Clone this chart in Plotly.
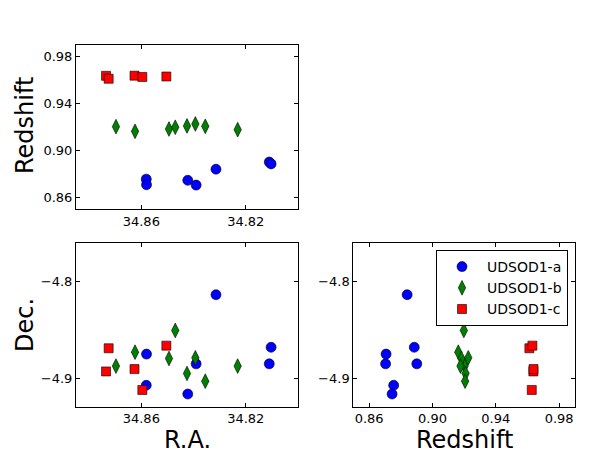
import plotly.graph_objects as go

# UDSOD1 members: R.A., redshift, Dec.
ra_a = [34.8581, 34.8580, 34.8422, 34.8390, 34.8314, 34.8110, 34.8103]
z_a = [0.8755, 0.8707, 0.8745, 0.8704, 0.8840, 0.8901, 0.8885]
dec_a = [-4.907, -4.875, -4.916, -4.885, -4.814, -4.885, -4.868]

ra_b = [34.8697, 34.8624, 34.8494, 34.8470, 34.8425, 34.8393, 34.8355, 34.8231]
z_b = [0.9203, 0.9163, 0.9183, 0.9198, 0.9209, 0.9226, 0.9206, 0.9177]
dec_b = [-4.8873, -4.8730, -4.8795, -4.8507, -4.8949, -4.8788, -4.9028, -4.8873]

ra_c = [34.8735, 34.8725, 34.8626, 34.8596, 34.8504]
z_c = [0.9637, 0.9612, 0.9638, 0.9627, 0.9631]
dec_c = [-4.8928, -4.8690, -4.8904, -4.9118, -4.8663]

groups = [
    ("UDSOD1-a", ra_a, z_a, dec_a, "circle", "#0000ff", 10),
    ("UDSOD1-b", ra_b, z_b, dec_b, "diamond-tall", "#008000", 10.5),
    ("UDSOD1-c", ra_c, z_c, dec_c, "square", "#ff0000", 9),
]

fig = go.Figure()
for name, ra, z, dec, sym, col, sz in groups:
    mk = dict(symbol=sym, color=col, size=sz, line=dict(color="black", width=0.6))
    fig.add_trace(go.Scatter(x=ra, y=z, mode="markers", marker=mk, xaxis="x", yaxis="y", showlegend=False))
    fig.add_trace(go.Scatter(x=ra, y=dec, mode="markers", marker=mk, xaxis="x2", yaxis="y2", showlegend=False))
    fig.add_trace(go.Scatter(x=z, y=dec, mode="markers", marker=mk, xaxis="x3", yaxis="y3", name=name))

font = dict(family="DejaVu Sans", size=13, color="black")
ax = dict(showgrid=False, zeroline=False, showline=True, linecolor="black", linewidth=1,
          mirror="ticks", ticks="inside", ticklen=4, tickcolor="black", automargin=False,
          tickfont=font)

# the page body adds 8px around the figure, so the figure is 8px smaller
W, H = 602, 452
left_dom = [68 / W, 290 / W]
right_dom = [345.3 / W, 567 / W]
top_dom = [1 - 201 / H, 1 - 37 / H]
bot_dom = [1 - 398.7 / H, 1 - 234.7 / H]

fig.update_layout(
    width=W, height=H,
    margin=dict(l=0, r=0, t=0, b=0),
    paper_bgcolor="white", plot_bgcolor="white",
    font=font,
    xaxis=dict(ax, domain=left_dom, anchor="y", range=[34.885, 34.80],
               tick0=34.82, dtick=0.04, tickformat=".2f"),
    yaxis=dict(ax, domain=top_dom, anchor="x", range=[0.85, 0.99],
               tick0=0.86, dtick=0.04, tickformat=".2f"),
    xaxis2=dict(ax, domain=left_dom, anchor="y2", range=[34.885, 34.80],
                tick0=34.82, dtick=0.04, tickformat=".2f"),
    yaxis2=dict(ax, domain=bot_dom, anchor="x2", range=[-4.929, -4.7606],
                tick0=-4.8, dtick=0.1, tickformat=".1f"),
    xaxis3=dict(ax, domain=right_dom, anchor="y3", range=[0.85, 0.99],
                tick0=0.86, dtick=0.04, tickformat=".2f"),
    yaxis3=dict(ax, domain=bot_dom, anchor="x3", range=[-4.929, -4.7606],
                tick0=-4.8, dtick=0.1, tickformat=".1f"),
    legend=dict(x=428 / W, y=1 - 242 / H, xanchor="left", yanchor="top",
                bordercolor="black", borderwidth=1, bgcolor="white",
                font=dict(family="DejaVu Sans", size=14), itemwidth=40,
                tracegroupgap=0),
)

# axis titles
title_font = dict(family="DejaVu Sans", size=24, color="black")
for text, x, y, ang in [
    ("Redshift", 17, 118, -90),
    ("Dec.", 17, 317, -90),
    ("R.A.", 179, 432, 0),
    ("Redshift", 456, 432, 0),
]:
    fig.add_annotation(text=text, x=x / W, y=1 - y / H, xref="paper", yref="paper",
                       showarrow=False, textangle=ang, font=title_font,
                       xanchor="center", yanchor="middle", borderpad=0)

fig.write_html("out.html")
